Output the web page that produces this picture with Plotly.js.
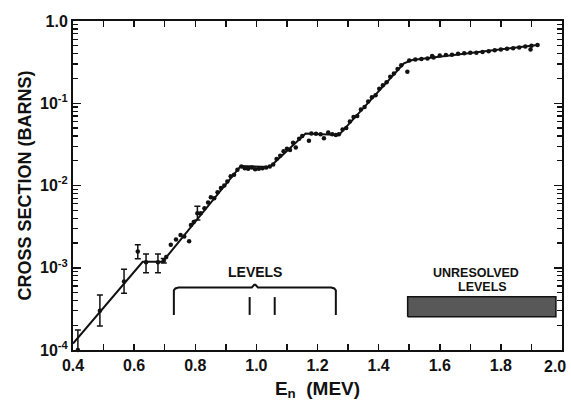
<!DOCTYPE html>
<html><head><meta charset="utf-8">
<script src="https://cdn.plot.ly/plotly-3.0.1.min.js"></script>
<style>html,body{margin:0;padding:0;background:#fff}#chart{width:571px;height:406px}</style>
</head><body><div id="chart"></div>
<script>
// Fitted curve (piecewise)
var curveX = [0.40, 0.628, 0.693, 0.949, 1.044, 1.161, 1.27, 1.483, 1.51, 1.92];
var curveY = [1.2e-4, 1.18e-3, 1.18e-3, 1.73e-2, 1.68e-2, 4.3e-2, 4.1e-2, 0.306, 0.336, 0.51];

// Measured points (no error bars drawn)
var dotX = [0.705,0.72,0.737,0.752,0.764,0.78,0.786,0.795,0.818,0.83,0.842,0.851,0.862,0.873,0.884,0.895,0.905,0.916,0.927,0.938,
  0.951,0.962,0.973,0.985,0.996,1.008,1.02,1.032,1.044,
  1.055,1.066,1.078,1.089,1.10,1.11,1.12,1.129,1.14,1.15,
  1.172,1.18,1.195,1.21,1.221,1.235,1.248,1.26,1.27,
  1.282,1.294,1.306,1.318,1.33,1.342,1.354,1.366,1.378,1.39,1.402,1.414,1.426,1.438,1.45,1.462,1.474,1.494,
  1.50,1.52,1.54,1.56,1.575,1.58,1.60,1.62,1.64,1.66,1.68,1.70,1.72,1.74,1.76,1.78,1.80,1.82,1.84,1.86,1.88,1.897,1.90,1.92];
var dotY = [1.35e-3,1.9e-3,2.2e-3,2.5e-3,2.4e-3,2.1e-3,3.3e-3,3.6e-3,4.6e-3,5.3e-3,6.2e-3,7.2e-3,7.0e-3,8.3e-3,9.3e-3,1.0e-2,1.12e-2,1.3e-2,1.35e-2,1.55e-2,
  1.7e-2,1.62e-2,1.6e-2,1.65e-2,1.58e-2,1.6e-2,1.62e-2,1.65e-2,1.7e-2,
  1.8e-2,2.1e-2,2.3e-2,2.6e-2,2.8e-2,2.7e-2,3.3e-2,2.9e-2,3.7e-2,4.0e-2,
  3.5e-2,4.3e-2,4.25e-2,4.2e-2,3.75e-2,4.4e-2,4.2e-2,4.1e-2,4.2e-2,
  4.8e-2,5.0e-2,6.0e-2,6.8e-2,7.0e-2,8.4e-2,9.0e-2,0.105,0.118,0.125,0.15,0.165,0.18,0.21,0.23,0.26,0.29,0.242,
  0.33,0.34,0.345,0.35,0.375,0.36,0.38,0.385,0.39,0.40,0.405,0.41,0.41,0.42,0.43,0.44,0.45,0.46,0.465,0.475,0.49,0.45,0.50,0.51];

// Points with error bars
var errX  = [0.416, 0.488, 0.567, 0.612, 0.639, 0.678, 0.697, 0.807];
var errY  = [1.0e-4, 3.0e-4, 6.8e-4, 1.58e-3, 1.17e-3, 1.17e-3, 1.22e-3, 4.6e-3];
var errHi = [1.75e-4, 4.67e-4, 9.6e-4, 1.9e-3, 1.47e-3, 1.47e-3, 1.3e-3, 5.6e-3];
var errLo = [0.57e-4, 1.96e-4, 4.9e-4, 1.29e-3, 0.87e-3, 0.87e-3, 1.14e-3, 3.8e-3];

// Level markers
var braceX = [0.73, 0.73, 0.735, 0.745, 0.985, 0.993, 0.997, 1.005, 1.245, 1.255, 1.26, 1.26];
var braceY = [2.67e-4, 5.3e-4, 5.6e-4, 5.75e-4, 5.75e-4, 6.2e-4, 6.2e-4, 5.75e-4, 5.75e-4, 5.6e-4, 5.3e-4, 2.67e-4];
var levelE = [0.978, 1.06];
var levelLo = 2.67e-4, levelHi = 4.4e-4;
var unresolvedX = [1.495, 1.98];
var unresolvedY = [2.54e-4, 4.45e-4];

var xTickVals = [0.4, 0.6, 0.8, 1.0, 1.2, 1.4, 1.6, 1.8, 2.0];
var xTickText = ['0.4', '0.6', '0.8', '1.0', '1.2', '1.4', '1.6', '1.8', ''];
var xLastLabel = '2.0';
var yTickVals = [1e-4, 1e-3, 1e-2, 1e-1, 1];
var yTickText = ['10<sup>-4</sup>', '10<sup>-3</sup>', '10<sup>-2</sup>', '10<sup>-1</sup>', '1.0'];

var errUp = errY.map(function(v,i){return errHi[i]-v;});
var errDn = errY.map(function(v,i){return v-errLo[i];});
var lvX = [], lvY = [];
levelE.forEach(function(e){ lvX.push(e, e, null); lvY.push(levelLo, levelHi, null); });

var minorY = [];
for (var d = -4; d < 0; d++) for (var k = 2; k <= 9; k++) minorY.push(k*Math.pow(10,d));
var minorX = [];
for (var m = 5; m <= 19; m += 2) minorX.push(m/10);

var F = 'Liberation Sans, Arial, sans-serif';
var traces = [
  {x: curveX, y: curveY, mode: 'lines', line: {color: '#111', width: 2}, hoverinfo: 'skip'},
  {x: dotX, y: dotY, mode: 'markers', marker: {color: '#111', size: 4.5}},
  {x: errX, y: errY, mode: 'markers', marker: {color: '#111', size: 4.5}, cliponaxis: false,
   error_y: {type: 'data', symmetric: false, array: errUp, arrayminus: errDn, color: '#111', thickness: 1.5, width: 3}},
  {x: braceX, y: braceY, mode: 'lines', line: {color: '#111', width: 2}},
  {x: lvX, y: lvY, mode: 'lines', line: {color: '#111', width: 2}},
  {x: [unresolvedX[0], unresolvedX[1], unresolvedX[1], unresolvedX[0], unresolvedX[0]],
   y: [unresolvedY[0], unresolvedY[0], unresolvedY[1], unresolvedY[1], unresolvedY[0]],
   mode: 'lines', fill: 'toself', fillcolor: '#585858', line: {color: '#111', width: 1.5}}
];

var layout = {
  width: 571, height: 406,
  margin: {l: 73, r: 9, t: 21, b: 56},
  paper_bgcolor: '#fff', plot_bgcolor: '#fff',
  showlegend: false,
  font: {family: F, color: '#111', size: 14},
  xaxis: {
    range: [0.4, 2.0], tickmode: 'array', tickvals: xTickVals, ticktext: xTickText,
    ticks: 'inside', ticklen: 6, tickwidth: 1.5, tickcolor: '#111',
    minor: {tickmode: 'array', tickvals: minorX, ticks: 'inside', ticklen: 6, tickwidth: 1.5, tickcolor: '#111'},
    showline: true, linewidth: 2, linecolor: '#111', mirror: 'allticks',
    showgrid: false, zeroline: false,
    tickfont: {family: F, size: 16, color: '#111', weight: 'bold'},
    title: {text: 'E<sub>n</sub>  (MEV)', font: {family: F, size: 19, color: '#111', weight: 'bold'}, standoff: 8}
  },
  yaxis: {
    type: 'log', range: [-4, 0],
    tickmode: 'array', tickvals: yTickVals, ticktext: yTickText,
    ticks: 'inside', ticklen: 8, tickwidth: 1.5, tickcolor: '#111',
    minor: {tickmode: 'array', tickvals: minorY, ticks: 'inside', ticklen: 5, tickwidth: 1.2, tickcolor: '#111'},
    showline: true, linewidth: 2, linecolor: '#111', mirror: 'allticks',
    showgrid: false, zeroline: false,
    tickfont: {family: F, size: 16, color: '#111', weight: 'bold'},
    title: {text: 'CROSS SECTION (BARNS)', font: {family: F, size: 18, color: '#111', weight: 'bold'}, standoff: 4}
  },
  annotations: [
    {x: 0.995, y: -3.05, xref: 'x', yref: 'y', text: 'LEVELS', showarrow: false, font: {family: F, size: 14, color: '#111', weight: 'bold'}},
    {x: 1.72, y: -3.06, xref: 'x', yref: 'y', text: 'UNRESOLVED', showarrow: false, font: {family: F, size: 12.5, color: '#111', weight: 'bold'}},
    {x: 1.74, y: -3.24, xref: 'x', yref: 'y', text: 'LEVELS', showarrow: false, font: {family: F, size: 12.5, color: '#111', weight: 'bold'}},
    {x: 2.0, y: 0, xref: 'x', yref: 'paper', text: xLastLabel, showarrow: false, xanchor: 'center', yanchor: 'top',
     xshift: -7, yshift: -6, font: {family: F, size: 16, color: '#111', weight: 'bold'}}
  ]
};

Plotly.newPlot('chart', traces, layout, {staticPlot: true, displayModeBar: false});
</script></body></html>
